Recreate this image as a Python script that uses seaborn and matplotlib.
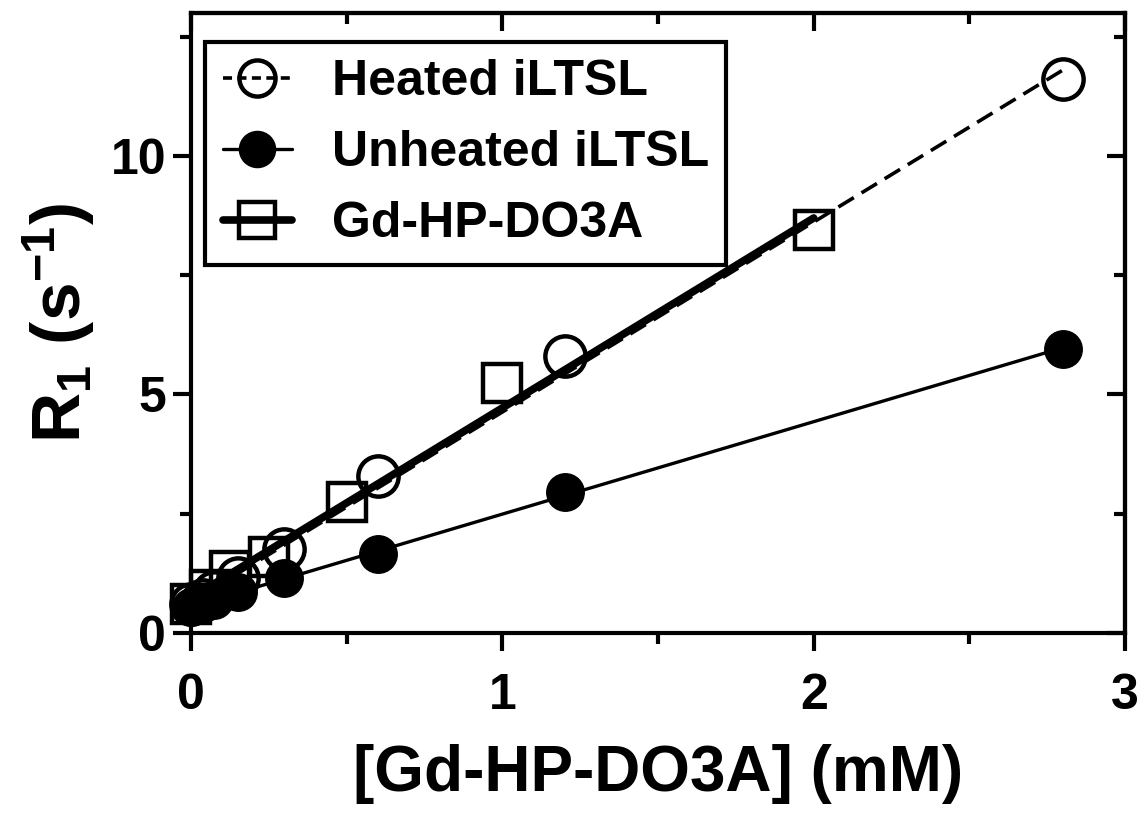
import numpy as np
import matplotlib
matplotlib.use("Agg")
import matplotlib.pyplot as plt
import seaborn as sns
from matplotlib.lines import Line2D
from matplotlib.ticker import MultipleLocator

# Heated iLTSL (open circles, dashed fit)
heated_x = [0.0, 0.0375, 0.075, 0.15, 0.3, 0.6, 1.2, 2.8]
heated_y = [0.6, 0.7, 0.85, 1.15, 1.75, 3.3, 5.8, 11.6]

# Unheated iLTSL (filled circles, thin fit)
unheated_x = [0.0, 0.0375, 0.075, 0.15, 0.3, 0.6, 1.2, 2.8]
unheated_y = [0.55, 0.62, 0.7, 0.85, 1.15, 1.65, 2.95, 5.96]

# Gd-HP-DO3A (open squares, thick fit)
gd_x = [0.0, 0.0625, 0.125, 0.25, 0.5, 1.0, 2.0]
gd_y = [0.6, 0.9, 1.3, 1.6, 2.75, 5.23, 8.45]

labels = ["Heated iLTSL", "Unheated iLTSL", "Gd-HP-DO3A"]

sns.set_style("ticks")
plt.rcParams["font.family"] = ["Liberation Sans", "DejaVu Sans"]
plt.rcParams["font.weight"] = "bold"
plt.rcParams["text.color"] = "k"
plt.rcParams["axes.labelcolor"] = "k"
plt.rcParams["xtick.color"] = "k"
plt.rcParams["ytick.color"] = "k"
plt.rcParams["mathtext.fontset"] = "custom"
plt.rcParams["mathtext.rm"] = "Liberation Sans:bold"
plt.rcParams["mathtext.it"] = "Liberation Sans:bold"
plt.rcParams["mathtext.bf"] = "Liberation Sans:bold"

fig = plt.figure(figsize=(11.46, 8.14), dpi=100)
ax = fig.add_axes([0.1667, 0.2224, 0.815, 0.762])

# fitted lines
sns.regplot(x=heated_x, y=heated_y, ax=ax, scatter=False, ci=None,
            line_kws=dict(color="k", lw=2.6, ls=(0, (5, 2.5)), zorder=3))
sns.regplot(x=unheated_x, y=unheated_y, ax=ax, scatter=False, ci=None,
            line_kws=dict(color="k", lw=2.4, zorder=3))
sns.regplot(x=gd_x, y=gd_y, ax=ax, scatter=False, ci=None,
            line_kws=dict(color="k", lw=5.5, zorder=3))

# markers
ax.plot(gd_x, gd_y, ls="none", marker="s", ms=28, mfc="none", mec="k",
        mew=3.2, clip_on=False, zorder=4)
ax.plot(heated_x, heated_y, ls="none", marker="o", ms=29, mfc="none", mec="k",
        mew=3.2, clip_on=False, zorder=4)
ax.plot(unheated_x, unheated_y, ls="none", marker="o", ms=27, mfc="k", mec="k",
        mew=1, clip_on=False, zorder=5)

ax.set_xlim(0, 3)
ax.set_ylim(0, 13)
ax.xaxis.set_major_locator(MultipleLocator(1))
ax.xaxis.set_minor_locator(MultipleLocator(0.5))
ax.yaxis.set_major_locator(MultipleLocator(5))
ax.yaxis.set_minor_locator(MultipleLocator(2.5))

for s in ax.spines.values():
    s.set_visible(True)
    s.set_linewidth(3)
    s.set_color("k")

ax.tick_params(which="major", direction="out", length=13, width=3, labelsize=36, color="k")
ax.tick_params(which="minor", direction="out", length=8, width=3, color="k")
ax.tick_params(axis="x", which="major", pad=16)
ax.tick_params(axis="y", which="major", pad=5)

# inward ticks on top and right
top = ax.secondary_xaxis("top")
top.xaxis.set_major_locator(MultipleLocator(1))
top.xaxis.set_minor_locator(MultipleLocator(0.5))
top.tick_params(which="major", direction="in", length=13, width=3, labeltop=False)
top.tick_params(which="minor", direction="in", length=8, width=3)
right = ax.secondary_yaxis("right")
right.yaxis.set_major_locator(MultipleLocator(5))
right.yaxis.set_minor_locator(MultipleLocator(2.5))
right.tick_params(which="major", direction="in", length=13, width=3, labelright=False)
right.tick_params(which="minor", direction="in", length=8, width=3)
for sec in (top, right):
    for s in sec.spines.values():
        s.set_linewidth(3)

ax.set_xlabel("[Gd-HP-DO3A] (mM)", fontsize=46, fontweight="bold", labelpad=18)
ax.set_ylabel(r"R$_\mathregular{1}$ (s$^\mathregular{-1}$)", fontsize=50,
              fontweight="bold", labelpad=10)

handles = [
    Line2D([], [], color="k", lw=2.6, ls=(0, (2.5, 1.5)), marker="o", ms=26,
           mfc="none", mec="k", mew=3.2),
    Line2D([], [], color="k", lw=2.4, marker="o", ms=26, mfc="k", mec="k"),
    Line2D([], [], color="k", lw=5.5, marker="s", ms=26, mfc="none", mec="k",
           mew=3.2),
]
leg = ax.legend(handles, labels, loc="upper left", bbox_to_anchor=(0.015, 0.953),
                borderaxespad=0, fontsize=36, frameon=True, fancybox=False,
                framealpha=1, edgecolor="k", handlelength=1.38, handletextpad=0.8,
                labelspacing=0.5, borderpad=0.35)
leg.get_frame().set_linewidth(3)
for t in leg.get_texts():
    t.set_fontweight("bold")

fig.savefig("out.png", dpi=100)
